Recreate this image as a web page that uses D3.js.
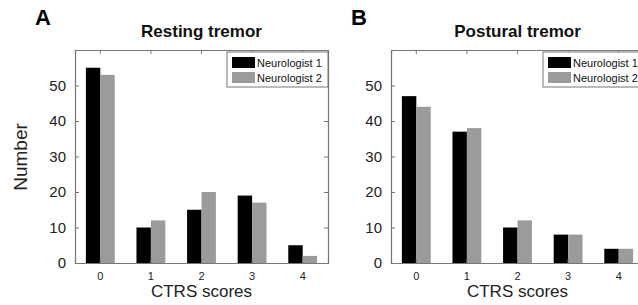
<!DOCTYPE html>
<html>
<head>
<meta charset="utf-8">
<script src="https://cdn.jsdelivr.net/npm/d3@7"></script>
<style>
  body { margin: 0; background: #fff; }
  svg { display: block; font-family: "Liberation Sans", Arial, sans-serif; }
</style>
</head>
<body>
<svg id="chart" width="638" height="305"></svg>
<script>
// data
const scores = ["0", "1", "2", "3", "4"];
const raters = ["Neurologist 1", "Neurologist 2"];
const restingN1 = [55, 10, 15, 19, 5];
const restingN2 = [53, 12, 20, 17, 2];
const posturalN1 = [47, 37, 10, 8, 4];
const posturalN2 = [44, 38, 12, 8, 4];
const yTicks = [0, 10, 20, 30, 40, 50];
const colours = ["#000000", "#9b9b9b"];

const svg = d3.select("#chart");

function drawPanel(left, letter, title, n1, n2) {
  const top = 50, w = 253, h = 213;
  const g = svg.append("g").attr("transform", `translate(${left},${top})`);

  const x0 = d3.scaleBand().domain(scores).range([0, w])
    .paddingInner(0.43).paddingOuter(0.215);
  const x1 = d3.scaleBand().domain(raters).range([0, x0.bandwidth()]);
  const y = d3.scaleLinear().domain([0, 60]).range([h, 0]);

  const rows = scores.map((s, i) => ({ score: s, vals: [n1[i], n2[i]] }));

  g.selectAll("g.grp")
    .data(rows)
    .join("g")
    .attr("class", "grp")
    .attr("transform", d => `translate(${x0(d.score)},0)`)
    .selectAll("rect")
    .data(d => d.vals.map((v, k) => ({ k: k, v: v })))
    .join("rect")
    .attr("x", d => x1(raters[d.k]))
    .attr("width", x1.bandwidth())
    .attr("y", d => y(d.v))
    .attr("height", d => h - y(d.v))
    .attr("fill", d => colours[d.k]);

  // axes, matlab style: ticks pointing inward, box all round
  const axCol = "#777";
  const xb = g.append("g").attr("transform", `translate(0,${h})`)
    .call(d3.axisBottom(x0).tickSize(-4).tickPadding(9));
  const xt = g.append("g")
    .call(d3.axisTop(x0).tickSize(-4).tickFormat(""));
  const yl = g.append("g")
    .call(d3.axisLeft(y).tickValues(yTicks).tickSize(-4).tickPadding(9));
  const yr = g.append("g").attr("transform", `translate(${w},0)`)
    .call(d3.axisRight(y).tickValues(yTicks).tickSize(-4).tickFormat(""));

  [xb, xt, yl, yr].forEach(a => {
    a.select(".domain").attr("stroke", axCol).attr("stroke-width", 1.2);
    a.selectAll(".tick line").attr("stroke", axCol);
  });
  xb.selectAll(".tick text").attr("font-size", 11).attr("fill", "#222")
    .attr("font-family", "Liberation Sans, Arial, sans-serif");
  yl.selectAll(".tick text").attr("font-size", 15).attr("fill", "#222")
    .attr("font-family", "Liberation Sans, Arial, sans-serif");

  // legend
  const lg = g.append("g").attr("transform", `translate(${w - 101},2)`);
  lg.append("rect").attr("width", 101).attr("height", 35)
    .attr("fill", "#fff").attr("stroke", "#777");
  raters.forEach((r, k) => {
    lg.append("rect").attr("x", 5).attr("y", 5 + k * 15)
      .attr("width", 23).attr("height", 11).attr("fill", colours[k]);
    lg.append("text").attr("x", 30).attr("y", 14.5 + k * 15)
      .attr("font-size", 11).attr("fill", "#111").text(r);
  });

  // labels
  svg.append("text").attr("x", left + w / 2).attr("y", 37)
    .attr("text-anchor", "middle").attr("font-size", 17)
    .attr("font-weight", "bold").attr("fill", "#111").text(title);
  svg.append("text").attr("x", left + w / 2).attr("y", 297)
    .attr("text-anchor", "middle").attr("font-size", 17)
    .attr("fill", "#222").text("CTRS scores");
  svg.append("text").attr("x", left - 40).attr("y", 25)
    .attr("font-size", 22).attr("font-weight", "bold")
    .attr("fill", "#000").text(letter);
}

drawPanel(75, "A", "Resting tremor", restingN1, restingN2);
drawPanel(391, "B", "Postural tremor", posturalN1, posturalN2);

svg.append("text")
  .attr("transform", "translate(27,157) rotate(-90)")
  .attr("text-anchor", "middle").attr("font-size", 19)
  .attr("fill", "#222").text("Number");
</script>
</body>
</html>
